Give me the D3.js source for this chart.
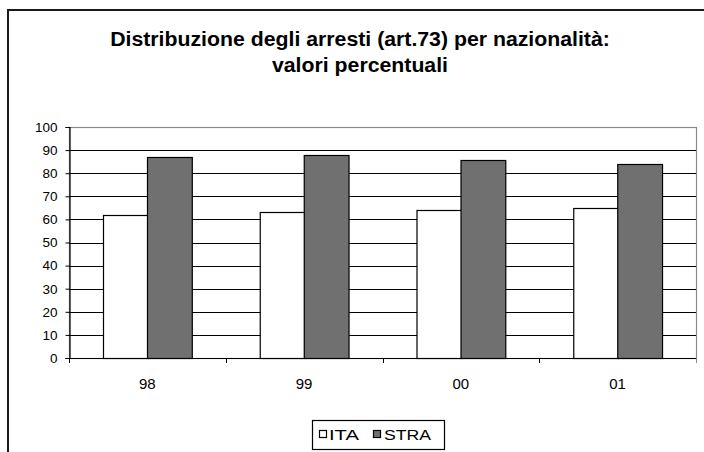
<!DOCTYPE html>
<html>
<head>
<meta charset="utf-8">
<script src="https://cdn.jsdelivr.net/npm/d3@7"></script>
<style>
  html, body { margin: 0; padding: 0; background: #fff; }
  svg { display: block; }
</style>
</head>
<body>
<svg id="chart" width="704" height="452"></svg>
<script>
// Arrest distribution (art.73) by nationality, percentage values
const years = ["98", "99", "00", "01"];
const seriesNames = ["ITA", "STRA"];
const itaValues = [62, 63, 64, 65];
const straValues = [87, 88, 85.5, 84];
const yTicks = [0, 10, 20, 30, 40, 50, 60, 70, 80, 90, 100];
const titleLines = ["Distribuzione degli arresti (art.73) per nazionalità:", "valori percentuali"];

const seriesFill = { ITA: "#ffffff", STRA: "#707070" };
const rows = years.map((y, i) => ({ year: y, ITA: itaValues[i], STRA: straValues[i] }));

const svg = d3.select("#chart");
const W = 704, H = 452;
const plot = { left: 69, right: 696, top: 127, bottom: 358 };

// outer chart frame (runs past the right and bottom edges)
svg.append("rect")
  .attr("x", 8).attr("y", 10)
  .attr("width", W + 20).attr("height", H + 20)
  .attr("fill", "#fff").attr("stroke", "#1a1a1a").attr("stroke-width", 2);

// title: bold sans, squeezed horizontally into a condensed face
const title = svg.append("g")
  .attr("font-family", "'Liberation Sans', Arial, sans-serif")
  .attr("font-weight", "bold").attr("fill", "#000").attr("text-anchor", "middle")
  .attr("font-size", 20.5);
const t1 = title.append("text").text(titleLines[0]);
const squeeze = 500 / t1.node().getComputedTextLength();
t1.attr("transform", `translate(360,46) scale(${squeeze},1)`);
title.append("text").text(titleLines[1])
  .attr("transform", `translate(360,72) scale(${squeeze},1)`);

// scales
const x0 = d3.scaleBand().domain(years).range([plot.left, plot.right]).paddingInner(0).paddingOuter(0);
const x1 = d3.scaleBand().domain(seriesNames).range([0, x0.bandwidth()]).paddingInner(0).paddingOuter(0.75);
const y = d3.scaleLinear().domain([0, 100]).range([plot.bottom, plot.top]);

// plot area border
svg.append("rect")
  .attr("x", plot.left + 0.5).attr("y", y(100) + 0.5)
  .attr("width", plot.right - plot.left).attr("height", plot.bottom - y(100))
  .attr("fill", "none").attr("stroke", "#8a8a8a").attr("stroke-width", 1.2);

// horizontal gridlines
svg.append("g").selectAll("line")
  .data(yTicks.filter(v => v > 0 && v < 100))
  .join("line")
  .attr("x1", plot.left).attr("x2", plot.right)
  .attr("y1", d => Math.round(y(d)) + 0.5).attr("y2", d => Math.round(y(d)) + 0.5)
  .attr("stroke", "#000").attr("stroke-width", 1);

// bars
const groups = svg.append("g").selectAll("g")
  .data(rows).join("g")
  .attr("transform", d => `translate(${x0(d.year)},0)`);
groups.selectAll("rect")
  .data(d => seriesNames.map(k => ({ key: k, value: d[k] })))
  .join("rect")
  .attr("x", d => Math.round(x1(d.key)) + 0.5)
  .attr("y", d => Math.round(y(d.value)) + 0.5)
  .attr("width", x1.bandwidth())
  .attr("height", d => plot.bottom - Math.round(y(d.value)))
  .attr("fill", d => seriesFill[d.key])
  .attr("stroke", "#000").attr("stroke-width", 1.2);

// y axis
const yAxis = svg.append("g")
  .attr("transform", `translate(${plot.left + 0.5},0)`)
  .call(d3.axisLeft(y).tickValues(yTicks).tickSize(4).tickPadding(8));
yAxis.select(".domain").attr("stroke", "#000").attr("stroke-width", 1.2);
yAxis.selectAll(".tick line").attr("stroke", "#000");
yAxis.selectAll(".tick text")
  .attr("font-family", "'Liberation Sans', Arial, sans-serif").attr("font-size", 13.5).attr("fill", "#000");

// x axis: tick marks on category boundaries, labels at category centres
const xg = svg.append("g");
xg.append("line")
  .attr("x1", plot.left).attr("x2", plot.right)
  .attr("y1", plot.bottom + 0.5).attr("y2", plot.bottom + 0.5)
  .attr("stroke", "#000").attr("stroke-width", 1.2);
const boundaries = years.map(c => x0(c)).concat([x0(years[years.length - 1]) + x0.bandwidth()]);
xg.selectAll("line.tk").data(boundaries).join("line").attr("class", "tk")
  .attr("x1", d => Math.round(d) + 0.5).attr("x2", d => Math.round(d) + 0.5)
  .attr("y1", plot.bottom).attr("y2", plot.bottom + 5)
  .attr("stroke", (d, i) => i === boundaries.length - 1 ? "#8a8a8a" : "#000");
xg.selectAll("text").data(years).join("text")
  .attr("x", d => x0(d) + x0.bandwidth() / 2)
  .attr("y", 389)
  .attr("text-anchor", "middle")
  .attr("font-family", "'Liberation Sans', Arial, sans-serif").attr("font-size", 15)
  .attr("fill", "#000")
  .text(d => d);

// legend
const legend = svg.append("g");
legend.append("rect")
  .attr("x", 312.5).attr("y", 420.5).attr("width", 132).attr("height", 29)
  .attr("fill", "#fff").attr("stroke", "#000").attr("stroke-width", 1.2);
const legendItems = [
  { key: "ITA", sx: 319, tx: 329, tw: 30 },
  { key: "STRA", sx: 373, tx: 384, tw: 47 }
];
legendItems.forEach(it => {
  legend.append("rect")
    .attr("x", it.sx + 0.5).attr("y", 430.5).attr("width", 7).attr("height", 7)
    .attr("fill", seriesFill[it.key]).attr("stroke", "#000").attr("stroke-width", 1.2);
  legend.append("text")
    .attr("x", it.tx).attr("y", 439.5)
    .attr("font-family", "'Liberation Sans', Arial, sans-serif").attr("font-size", 14)
    .attr("textLength", it.tw).attr("lengthAdjust", "spacingAndGlyphs")
    .attr("fill", "#000")
    .text(it.key);
});
</script>
</body>
</html>
